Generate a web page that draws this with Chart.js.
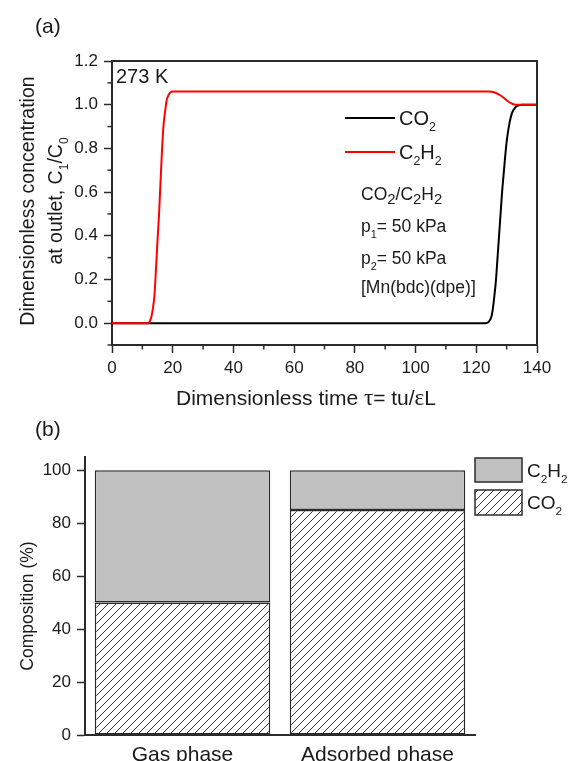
<!DOCTYPE html>
<html>
<head>
<meta charset="utf-8">
<script src="https://cdn.jsdelivr.net/npm/chart.js@4"></script>
<style>
  html, body { margin: 0; padding: 0; background: #fff; }
  #wrap { position: relative; width: 575px; height: 761px; overflow: hidden; background: #fff; }
  canvas { position: absolute; left: 0; }
  #breakthrough { top: 0; }
  #composition { top: 400px; }
</style>
</head>
<body>
<div id="wrap">
  <canvas id="breakthrough" width="575" height="415" style="width:575px;height:415px"></canvas>
  <canvas id="composition" width="575" height="361" style="width:575px;height:361px"></canvas>
</div>
<script>
// ---- (a) breakthrough curves: outlet concentration vs dimensionless time ----
const tauCO2 = [0, 20, 40, 60, 80, 100, 120, 123, 124, 125, 125.5, 126, 126.5, 127, 127.5, 128,
                128.5, 129, 129.5, 130, 130.5, 131, 131.5, 132, 132.5, 133, 134, 135, 140];
const outCO2 = [0, 0, 0, 0, 0, 0, 0, 0, 0.005, 0.03, 0.07, 0.13, 0.2, 0.3, 0.4, 0.5,
                0.6, 0.68, 0.76, 0.83, 0.88, 0.92, 0.95, 0.97, 0.98, 0.99, 0.997, 1.0, 1.0];

const tauC2H2 = [0, 12, 12.5, 13, 13.5, 14, 14.5, 15, 15.5, 16, 16.5, 17, 17.5, 18, 18.5, 19, 20,
                 40, 60, 80, 100, 120, 124, 125, 126, 127, 128, 129, 130, 131, 132, 133, 134, 140];
const outC2H2 = [0, 0, 0.01, 0.03, 0.07, 0.13, 0.25, 0.38, 0.5, 0.65, 0.8, 0.91, 0.97, 1.02, 1.04, 1.053, 1.06,
                 1.06, 1.06, 1.06, 1.06, 1.06, 1.06, 1.059, 1.056, 1.05, 1.042, 1.032, 1.02, 1.01, 1.003, 1.0, 1.0, 1.0];

const timeMajorTicks = [0, 20, 40, 60, 80, 100, 120, 140];
const timeMinorTicks = [10, 30, 50, 70, 90, 110, 130];
const concMajorTicks = [0, 0.2, 0.4, 0.6, 0.8, 1.0, 1.2];
const concMinorTicks = [-0.1, 0.1, 0.3, 0.5, 0.7, 0.9, 1.1];

const seriesNames = ['CO_2', 'C_2H_2'];
const conditionLines = ['CO_2/C_2H_2', 'p_1= 50 kPa', 'p_2= 50 kPa', '[Mn(bdc)(dpe)]'];

// ---- (b) composition of gas and adsorbed phase ----
const phases = ['Gas phase', 'Adsorbed phase'];
const co2Share = [50, 85];
const c2h2Share = [50, 15];
const compTicks = [0, 20, 40, 60, 80, 100];

const FONT = 'Arial, "Liberation Sans", sans-serif';
const SERIF = '"Liberation Serif", "Times New Roman", serif';
const TEXT = '#1a1a1a';
const AXIS = '#2b2b2b';
const GREY = '#c0c0c0';

// split "C_2H_2" into runs; "_x" makes x a subscript, greek letters use a serif face
function runs(s) {
  const out = [];
  let buf = '';
  const flush = () => { if (buf) { out.push({ t: buf }); buf = ''; } };
  for (let i = 0; i < s.length; i++) {
    const ch = s[i];
    if (ch === '_' && i + 1 < s.length) { flush(); out.push({ t: s[i + 1], sub: true }); i++; }
    else if ('τε'.includes(ch)) { flush(); out.push({ t: ch, greek: true }); }
    else buf += ch;
  }
  flush();
  return out;
}

function richText(ctx, s, x, baseline, size, o = {}) {
  const subScale = o.subScale || 0.62;
  const subDrop = o.subDrop || 0.3;
  const parts = runs(s);
  const fontOf = p => p.sub ? `${size * subScale}px ${FONT}` : (p.greek ? `${size * 1.1}px ${SERIF}` : `${size}px ${FONT}`);
  let w = 0;
  parts.forEach(p => { ctx.font = fontOf(p); p.w = ctx.measureText(p.t).width; w += p.w; });
  let cx = o.align === 'center' ? x - w / 2 : x;
  ctx.fillStyle = o.color || TEXT;
  ctx.textAlign = 'left';
  ctx.textBaseline = 'alphabetic';
  parts.forEach(p => {
    ctx.font = fontOf(p);
    ctx.fillText(p.t, cx, baseline + (p.sub ? size * subDrop : 0));
    cx += p.w;
  });
  return w;
}
// place text by the middle of its capitals
const mid = (cy, size) => cy + size * 0.36;

const breakthroughDecor = {
  id: 'breakthroughDecor',
  afterDraw(chart) {
    const { ctx, chartArea: a, scales: { x, y } } = chart;
    ctx.save();
    // closing frame on top and right
    ctx.strokeStyle = AXIS;
    ctx.lineWidth = 2;
    ctx.beginPath();
    ctx.moveTo(a.left, a.top); ctx.lineTo(a.right, a.top); ctx.lineTo(a.right, a.bottom);
    ctx.stroke();
    // minor ticks
    ctx.lineWidth = 1.5;
    timeMinorTicks.forEach(v => {
      const px = x.getPixelForValue(v);
      ctx.beginPath(); ctx.moveTo(px, a.bottom); ctx.lineTo(px, a.bottom + 4.5); ctx.stroke();
    });
    concMinorTicks.forEach(v => {
      const py = y.getPixelForValue(v);
      ctx.beginPath(); ctx.moveTo(a.left, py); ctx.lineTo(a.left - 4.5, py); ctx.stroke();
    });

    // panel label and temperature
    richText(ctx, '(a)', 35, mid(25, 21), 21);
    richText(ctx, '273 K', a.left + 4, mid(76, 20), 20);

    // legend
    const ds = chart.data.datasets;
    const rowsY = [118, 152];
    ds.forEach((d, i) => {
      ctx.strokeStyle = d.borderColor;
      ctx.lineWidth = 2;
      ctx.beginPath(); ctx.moveTo(345, rowsY[i]); ctx.lineTo(395, rowsY[i]); ctx.stroke();
      richText(ctx, seriesNames[i], 399, mid(rowsY[i], 20), 20);
    });

    // run conditions
    const condY = [194, 226, 258, 287];
    conditionLines.forEach((s, i) => {
      const opts = i === 0 ? { subScale: 0.85, subDrop: 0.22 } : {};
      richText(ctx, s, 361, mid(condY[i], 17.5), 17.5, opts);
    });

    // axis titles
    richText(ctx, 'Dimensionless time τ= tu/εL', 176, mid(397, 21), 21);
    ctx.translate(0, 201);
    ctx.rotate(-Math.PI / 2);
    richText(ctx, 'Dimensionless concentration', 0, 27 + 19.5 * 0.36, 19.5, { align: 'center' });
    richText(ctx, 'at outlet, C_1/C_0', 0, 55 + 19.5 * 0.36, 19.5, { align: 'center' });
    ctx.restore();
  }
};

new Chart(document.getElementById('breakthrough'), {
  type: 'line',
  data: {
    datasets: [
      {
        label: 'CO2',
        data: tauCO2.map((t, i) => ({ x: t, y: outCO2[i] })),
        borderColor: '#000000',
        borderWidth: 2,
        pointRadius: 0,
        cubicInterpolationMode: 'monotone',
        order: 2
      },
      {
        label: 'C2H2',
        data: tauC2H2.map((t, i) => ({ x: t, y: outC2H2[i] })),
        borderColor: '#ff0000',
        borderWidth: 2,
        pointRadius: 0,
        cubicInterpolationMode: 'monotone',
        order: 1
      }
    ]
  },
  options: {
    responsive: false,
    animation: false,
    events: [],
    layout: { padding: { left: 0, top: 61, right: 38, bottom: 0 } },
    plugins: { legend: { display: false }, tooltip: { enabled: false } },
    scales: {
      x: {
        type: 'linear',
        min: 0, max: 140,
        afterBuildTicks: s => { s.ticks = timeMajorTicks.map(v => ({ value: v })); },
        afterFit: s => { s.height = 70; },
        ticks: { font: { size: 17, family: FONT }, color: TEXT, padding: 5, maxRotation: 0, autoSkip: false },
        grid: { drawOnChartArea: false, tickLength: 8, tickWidth: 1.5, tickColor: AXIS },
        border: { color: AXIS, width: 2 }
      },
      y: {
        min: -0.1, max: 1.2,
        afterBuildTicks: s => { s.ticks = concMajorTicks.map(v => ({ value: v })); },
        afterFit: s => { s.width = 112; },
        ticks: { font: { size: 17, family: FONT }, color: TEXT, padding: 6, autoSkip: false,
                 callback: v => Number(v).toFixed(1) },
        grid: { drawOnChartArea: false, tickLength: 8, tickWidth: 1.5, tickColor: AXIS },
        border: { color: AXIS, width: 2 }
      }
    }
  },
  plugins: [breakthroughDecor]
});

// ---- (b) ----
const compCanvas = document.getElementById('composition');
const compCtx = compCanvas.getContext('2d');

function hatchPattern(ctx) {
  const s = 8;
  const tile = document.createElement('canvas');
  tile.width = s; tile.height = s;
  const g = tile.getContext('2d');
  g.fillStyle = '#ffffff';
  g.fillRect(0, 0, s, s);
  g.strokeStyle = '#333333';
  g.lineWidth = 1;
  g.beginPath();
  g.moveTo(0, s); g.lineTo(s, 0);
  g.moveTo(-s / 2, s / 2); g.lineTo(s / 2, -s / 2);
  g.moveTo(s / 2, s * 1.5); g.lineTo(s * 1.5, s / 2);
  g.stroke();
  return ctx.createPattern(tile, 'repeat');
}
const hatch = hatchPattern(compCtx);

const compositionDecor = {
  id: 'compositionDecor',
  afterDraw(chart) {
    const { ctx, chartArea: a } = chart;
    ctx.save();
    richText(ctx, '(b)', 35, mid(28, 21), 21);
    // legend boxes, topmost stack entry first
    const entries = [
      { name: 'C_2H_2', fill: chart.data.datasets[1].backgroundColor, top: 58, h: 24 },
      { name: 'CO_2', fill: chart.data.datasets[0].backgroundColor, top: 90, h: 25 }
    ];
    entries.forEach(e => {
      ctx.fillStyle = e.fill;
      ctx.fillRect(a.right, e.top, 47, e.h);
      ctx.strokeStyle = AXIS;
      ctx.lineWidth = 1.5;
      ctx.strokeRect(a.right, e.top, 47, e.h);
      richText(ctx, e.name, a.right + 52, mid(e.top + e.h / 2, 19), 19);
    });
    ctx.translate(0, 206);
    ctx.rotate(-Math.PI / 2);
    richText(ctx, 'Composition (%)', 0, 27 + 17.5 * 0.36, 17.5, { align: 'center' });
    ctx.restore();
  }
};

new Chart(compCanvas, {
  type: 'bar',
  data: {
    labels: phases,
    datasets: [
      {
        label: 'CO2',
        data: co2Share,
        backgroundColor: hatch,
        borderColor: AXIS,
        borderWidth: 1.5,
        borderSkipped: false,
        barPercentage: 0.9,
        categoryPercentage: 1
      },
      {
        label: 'C2H2',
        data: c2h2Share,
        backgroundColor: GREY,
        borderColor: AXIS,
        borderWidth: 1.5,
        borderSkipped: false,
        barPercentage: 0.9,
        categoryPercentage: 1
      }
    ]
  },
  options: {
    responsive: false,
    animation: false,
    events: [],
    layout: { padding: { left: 0, top: 57, right: 100, bottom: 0 } },
    plugins: { legend: { display: false }, tooltip: { enabled: false } },
    scales: {
      x: {
        stacked: true,
        afterFit: s => { s.height = 26; },
        ticks: { font: { size: 21, family: FONT }, color: TEXT, padding: 8, maxRotation: 0, autoSkip: false },
        grid: { display: false, drawTicks: false },
        border: { color: AXIS, width: 2 }
      },
      y: {
        stacked: true,
        min: 0, max: 105,
        afterBuildTicks: s => { s.ticks = compTicks.map(v => ({ value: v })); },
        afterFit: s => { s.width = 85; },
        ticks: { font: { size: 17, family: FONT }, color: TEXT, padding: 6, autoSkip: false },
        grid: { drawOnChartArea: false, tickLength: 8, tickWidth: 1.5, tickColor: AXIS },
        border: { color: AXIS, width: 2 }
      }
    }
  },
  plugins: [compositionDecor]
});
</script>
</body>
</html>
